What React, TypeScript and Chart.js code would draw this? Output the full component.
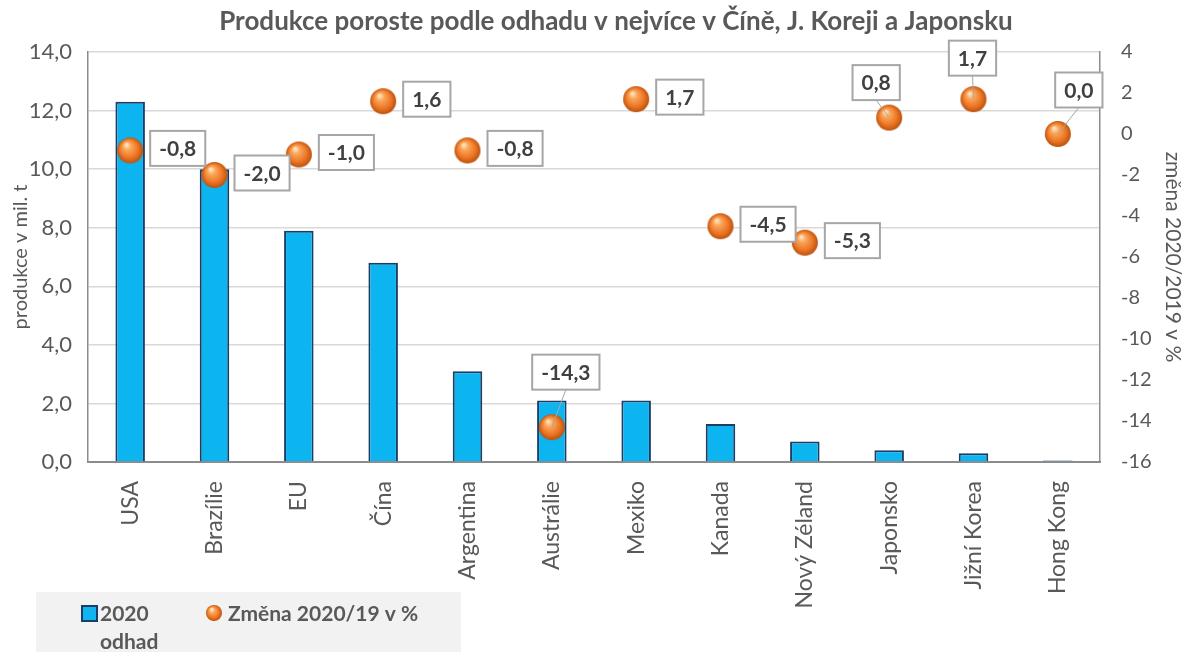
import React, { useEffect, useRef } from "react";
import { Chart, registerables } from "chart.js";

Chart.register(...registerables);

const categories = ["USA", "Brazílie", "EU", "Čína", "Argentina", "Austrálie", "Mexiko", "Kanada", "Nový Zéland", "Japonsko", "Jižní Korea", "Hong Kong"];
const production2020 = [12.3, 10.0, 7.9, 6.8, 3.1, 2.1, 2.1, 1.3, 0.7, 0.4, 0.3, 0.05];
const change2020 = [-0.8, -2.0, -1.0, 1.6, -0.8, -14.3, 1.7, -4.5, -5.3, 0.8, 1.7, 0.0];
const titleText = "Produkce poroste podle odhadu v nejvíce v Číně, J. Koreji a Japonsku";
const barLabel = "2020 odhad";
const pointLabel = "Změna 2020/19 v %";
const leftAxisTitle = "produkce v mil. t";
const rightAxisTitle = "změna 2020/2019 v %";

// label box placement: "right" of point, or explicit offset of the box centre relative to the point
const labelPlacement: (string | [number, number])[] = [
  "right", "right", "right", "right", "right", [14, -55], "right", "right", "right", [-13, -35], [-1, -41], [21, -44],
];

const FONT = "Lato, 'Noto Sans', sans-serif";
const GREY = "#595959";

function makeSphere(r: number): HTMLCanvasElement {
  const c = document.createElement("canvas");
  const s = 2 * r + 2;
  c.width = s;
  c.height = s;
  const g = c.getContext("2d")!;
  const cx = s / 2, cy = s / 2;
  const grad = g.createRadialGradient(cx - r * 0.3, cy - r * 0.45, 1, cx, cy, r);
  grad.addColorStop(0, "#ffe2bf");
  grad.addColorStop(0.25, "#fba75a");
  grad.addColorStop(0.7, "#ec7424");
  grad.addColorStop(1, "#b9520f");
  g.fillStyle = grad;
  g.beginPath();
  g.arc(cx, cy, r, 0, Math.PI * 2);
  g.fill();
  return c;
}

const fmt = (v: number, d: number) => v.toFixed(d).replace(".", ",");

export default function App() {
  const ref = useRef<HTMLCanvasElement>(null);
  useEffect(() => {
    document.body.style.margin = "0";
    const sphere = makeSphere(13);
    const legendSphere = makeSphere(8);

    const labelsPlugin = {
      id: "pointLabels",
      afterDatasetsDraw(chart: any) {
        const ctx = chart.ctx;
        const meta = chart.getDatasetMeta(1);
        ctx.save();
        ctx.font = `bold 21px ${FONT}`;
        meta.data.forEach((pt: any, i: number) => {
          const txt = fmt(change2020[i], 1);
          const w = ctx.measureText(txt).width + 18;
          const h = 35;
          const p = labelPlacement[i];
          let cx: number, cy: number;
          if (p === "right") {
            cx = pt.x + 20 + w / 2;
            cy = pt.y - 2;
          } else {
            const [dx, dy] = p as [number, number];
            cx = pt.x + dx;
            cy = pt.y + dy;
            ctx.strokeStyle = "#a6a6a6";
            ctx.lineWidth = 1;
            ctx.beginPath();
            ctx.moveTo(pt.x, pt.y);
            ctx.lineTo(cx, cy + h / 2);
            ctx.stroke();
          }
          ctx.fillStyle = "#ffffff";
          ctx.fillRect(cx - w / 2, cy - h / 2, w, h);
          ctx.strokeStyle = "#a6a6a6";
          ctx.lineWidth = 2;
          ctx.strokeRect(cx - w / 2, cy - h / 2, w, h);
          ctx.fillStyle = "#404040";
          ctx.textAlign = "center";
          ctx.textBaseline = "middle";
          ctx.fillText(txt, cx, cy + 1);
        });
        ctx.restore();
      },
      afterDraw(chart: any) {
        const ctx = chart.ctx;
        ctx.save();
        // title
        ctx.fillStyle = GREY;
        ctx.font = `bold 26px ${FONT}`;
        ctx.textAlign = "center";
        ctx.textBaseline = "middle";
        ctx.fillText(titleText, 616, 22);
        // legend
        ctx.fillStyle = "#f2f2f2";
        ctx.fillRect(36, 592, 425, 60);
        ctx.fillStyle = "#10b4ee";
        ctx.fillRect(82, 606, 15, 15);
        ctx.strokeStyle = "#1c3d66";
        ctx.lineWidth = 2;
        ctx.strokeRect(82, 606, 15, 15);
        ctx.fillStyle = GREY;
        ctx.font = `bold 21px ${FONT}`;
        ctx.textAlign = "left";
        ctx.textBaseline = "middle";
        const parts = barLabel.split(" ");
        ctx.fillText(parts[0], 100, 614);
        ctx.fillText(parts[1], 100, 642);
        ctx.drawImage(legendSphere, 214 - legendSphere.width / 2, 613 - legendSphere.height / 2);
        ctx.fillText(pointLabel, 228, 614);
        ctx.restore();
      },
    };

    const chart = new Chart(ref.current!, {
      type: "bar",
      data: {
        labels: categories,
        datasets: [
          {
            type: "bar",
            label: barLabel,
            data: production2020,
            yAxisID: "y",
            backgroundColor: "#0db5f0",
            borderColor: "#1c3d66",
            borderWidth: 2,
            barPercentage: 0.35,
            categoryPercentage: 1,
            order: 2,
          },
          {
            type: "line",
            label: pointLabel,
            data: change2020,
            yAxisID: "y1",
            showLine: false,
            pointStyle: sphere as any,
            pointRadius: 13,
            order: 1,
          } as any,
        ],
      },
      options: {
        responsive: false,
        animation: false,
        layout: { padding: { top: 52 } },
        plugins: {
          legend: { display: false },
          tooltip: { enabled: false },
          title: { display: false },
        },
        scales: {
          x: {
            grid: { display: false },
            border: { color: "#8c8c8c", width: 2 },
            ticks: { color: GREY, font: { family: FONT, size: 23 }, minRotation: 90, maxRotation: 90, padding: 11, autoSkip: false },
            afterFit: (s: any) => { s.height = 190; },
          },
          y: {
            position: "left",
            min: 0,
            max: 14,
            ticks: { stepSize: 2, color: GREY, font: { family: FONT, size: 22 }, padding: 16, callback: (v: any) => fmt(Number(v), 1) },
            grid: { color: "#d9d9d9", lineWidth: 1.5, drawTicks: false },
            border: { color: "#8c8c8c", width: 1.5 },
            title: { display: true, text: leftAxisTitle, color: GREY, font: { family: FONT, size: 20 }, padding: { top: 9, bottom: 0 } },
            afterFit: (s: any) => { s.width = 88; },
          },
          y1: {
            position: "right",
            min: -16,
            max: 4,
            ticks: { stepSize: 2, color: GREY, font: { family: FONT, size: 20 }, padding: 21, callback: (v: any) => String(v) },
            grid: { display: false, drawTicks: false },
            border: { color: "#8c8c8c", width: 1.5 },
            title: { display: true, text: rightAxisTitle, color: GREY, font: { family: FONT, size: 21 }, padding: { top: 4, bottom: 0 } },
            afterFit: (s: any) => { s.width = 89; },
          },
        },
      } as any,
      plugins: [labelsPlugin],
    });
    return () => chart.destroy();
  }, []);
  return (
    <div style={{ width: 1189, height: 652, background: "#ffffff" }}>
      <canvas ref={ref} width={1189} height={652} />
    </div>
  );
}
